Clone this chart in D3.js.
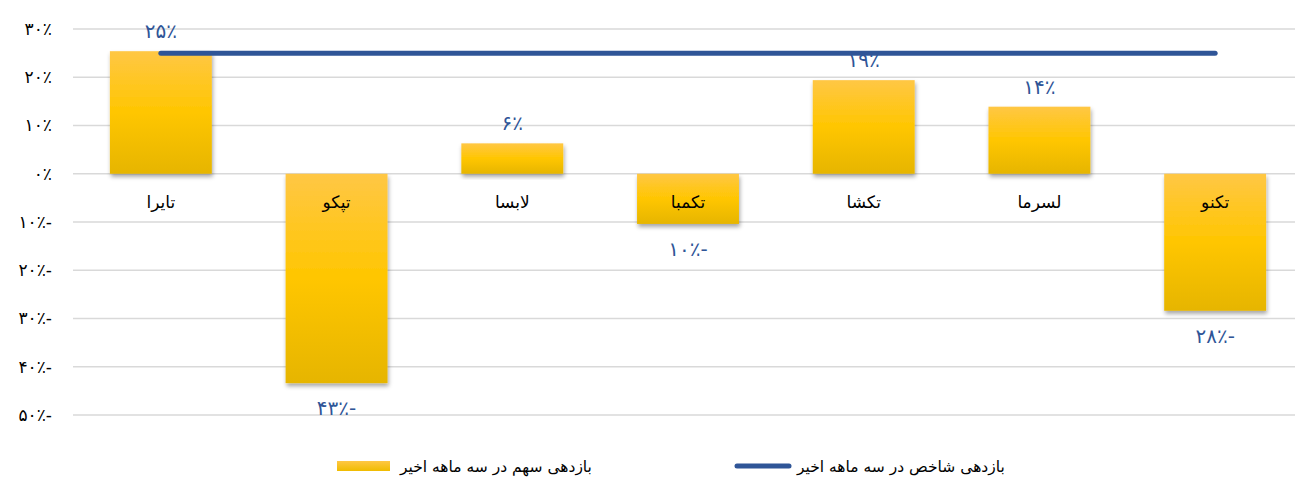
<!DOCTYPE html>
<html>
<head>
<meta charset="utf-8">
<script src="https://cdn.jsdelivr.net/npm/d3@7"></script>
<style>
  body { margin: 0; background: #fff; }
  text { font-family: "DejaVu Sans", "Liberation Sans", sans-serif; }
</style>
</head>
<body>
<div class="svgContainer"></div>
<script>
// Data
var SYMBOLS = ["تایرا", "تپکو", "لابسا", "تکمبا", "تکشا", "لسرما", "تکنو"];
var STOCK_RETURN = [25.4, -43.4, 6.3, -10.4, 19.4, 13.9, -28.4];
var INDEX_RETURN = [25, 25, 25, 25, 25, 25, 25];
var Y_TICKS = [30, 20, 10, 0, -10, -20, -30, -40, -50];
var LEGEND = ["بازدهی سهم در سه ماهه اخیر", "بازدهی شاخص در سه ماهه اخیر"];
// End data

var width = 1295, height = 478;

var svg = d3.select(".svgContainer").append("svg")
    .attr("width", width)
    .attr("height", height);

// persian digits + percent, minus sign goes on the right
function fa(n) {
    var s = String(Math.abs(Math.round(n))).replace(/\d/g, function(c) { return "۰۱۲۳۴۵۶۷۸۹"[+c]; });
    return s + "٪" + (n < 0 ? "-" : "");
}

var scaleX = d3.scaleBand()
    .domain(SYMBOLS)
    .range([73, 1303])
    .paddingInner(0.42)
    .paddingOuter(0.21);

var scaleY = d3.scaleLinear()
    .domain([-50, 30])
    .range([415, 29]);

var defs = svg.append("defs");
var grad = defs.append("linearGradient")
    .attr("id", "barGrad")
    .attr("x1", 0).attr("y1", 0).attr("x2", 0).attr("y2", 1);
grad.append("stop").attr("offset", "0%").attr("stop-color", "#FFC745");
grad.append("stop").attr("offset", "50%").attr("stop-color", "#FFC600");
grad.append("stop").attr("offset", "100%").attr("stop-color", "#E6B500");

var legGrad = defs.append("linearGradient")
    .attr("id", "legGrad")
    .attr("x1", 0).attr("y1", 0).attr("x2", 0).attr("y2", 1);
legGrad.append("stop").attr("offset", "0%").attr("stop-color", "#FFC745");
legGrad.append("stop").attr("offset", "100%").attr("stop-color", "#F0BC00");

var shadow = defs.append("filter")
    .attr("id", "shadow")
    .attr("x", "-20%").attr("y", "-20%").attr("width", "140%").attr("height", "140%");
shadow.append("feDropShadow")
    .attr("dx", 1).attr("dy", 3).attr("stdDeviation", 2.2)
    .attr("flood-color", "#000").attr("flood-opacity", 0.35);

// Gridlines
svg.append("g").selectAll("line")
    .data(Y_TICKS)
    .enter().append("line")
    .attr("x1", 73).attr("x2", width)
    .attr("y1", function(d) { return scaleY(d); })
    .attr("y2", function(d) { return scaleY(d); })
    .attr("stroke", "#D9D9D9")
    .attr("stroke-width", 1.5);

// Y axis labels
var yAxis = d3.axisLeft(scaleY)
    .tickValues(Y_TICKS)
    .tickSize(0)
    .tickPadding(0)
    .tickFormat(fa);
var yg = svg.append("g")
    .attr("transform", "translate(52,0)")
    .call(yAxis);
yg.select(".domain").remove();
yg.selectAll("text")
    .attr("font-size", 17)
    .attr("fill", "#000")
    .style("font-family", "DejaVu Sans, sans-serif");

// Bars
svg.append("g").selectAll("rect")
    .data(STOCK_RETURN)
    .enter().append("rect")
    .attr("x", function(d, i) { return scaleX(SYMBOLS[i]); })
    .attr("width", scaleX.bandwidth())
    .attr("y", function(d) { return scaleY(Math.max(0, d)); })
    .attr("height", function(d) { return Math.abs(scaleY(d) - scaleY(0)); })
    .attr("fill", "url(#barGrad)")
    .attr("filter", "url(#shadow)");

// Index line
var line = d3.line()
    .x(function(d, i) { return scaleX(SYMBOLS[i]) + scaleX.bandwidth() / 2; })
    .y(function(d) { return scaleY(d); });
svg.append("path")
    .datum(INDEX_RETURN)
    .attr("d", line)
    .attr("fill", "none")
    .attr("stroke", "#2F5597")
    .attr("stroke-width", 5)
    .attr("stroke-linecap", "round");

// Category labels
svg.append("g").selectAll("text")
    .data(SYMBOLS)
    .enter().append("text")
    .attr("x", function(d) { return scaleX(d) + scaleX.bandwidth() / 2; })
    .attr("y", scaleY(0) + 34)
    .attr("text-anchor", "middle")
    .attr("font-size", 17)
    .attr("fill", "#000")
    .text(function(d) { return d; });

// Data labels
svg.append("g").selectAll("text")
    .data(STOCK_RETURN)
    .enter().append("text")
    .attr("x", function(d, i) { return scaleX(SYMBOLS[i]) + scaleX.bandwidth() / 2; })
    .attr("y", function(d) { return d >= 0 ? scaleY(d) - 13 : scaleY(d) + 32; })
    .attr("text-anchor", "middle")
    .attr("font-size", 20)
    .attr("fill", "#2F5597")
    .text(function(d) { return fa(d); });

// Legend
var leg = svg.append("g");
leg.append("rect")
    .attr("x", 337).attr("y", 461)
    .attr("width", 53).attr("height", 10)
    .attr("fill", "url(#legGrad)");
leg.append("text")
    .attr("x", 400).attr("y", 472)
    .attr("text-anchor", "start")
    .attr("font-size", 15.5)
    .attr("fill", "#000")
    .text(LEGEND[0]);
leg.append("line")
    .attr("x1", 737).attr("x2", 789)
    .attr("y1", 466).attr("y2", 466)
    .attr("stroke", "#2F5597")
    .attr("stroke-width", 5)
    .attr("stroke-linecap", "round");
leg.append("text")
    .attr("x", 797).attr("y", 472)
    .attr("text-anchor", "start")
    .attr("font-size", 15.5)
    .attr("fill", "#000")
    .text(LEGEND[1]);
</script>
</body>
</html>
